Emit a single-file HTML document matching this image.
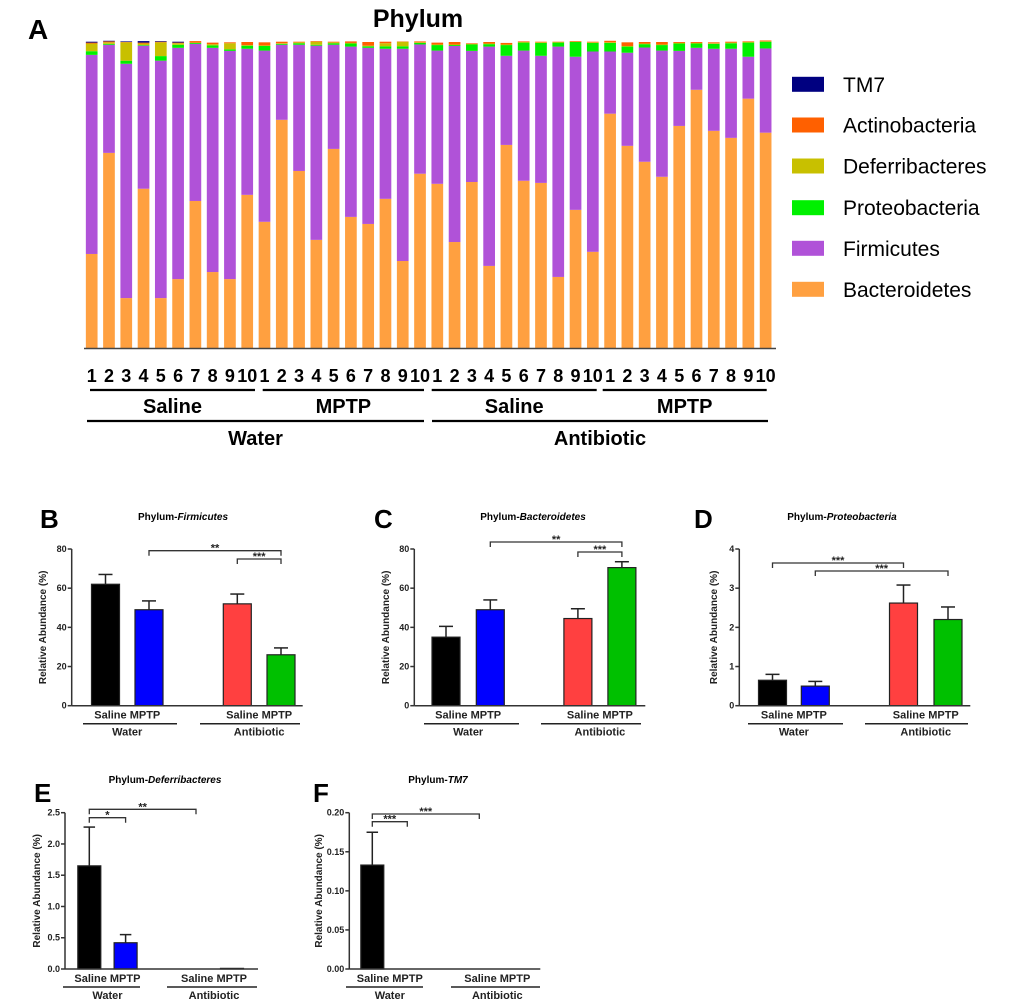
<!DOCTYPE html>
<html><head><meta charset="utf-8"><style>
html,body{margin:0;padding:0;background:#fff;}
svg{display:block;font-family:"Liberation Sans",Arial,sans-serif;}
</style></head><body>
<svg id="fig" width="1020" height="1004" viewBox="0 0 1020 1004" xmlns="http://www.w3.org/2000/svg">
<text x="28" y="39" font-size="28" font-weight="bold">A</text>
<text x="418" y="27" font-size="25" font-weight="bold" text-anchor="middle">Phylum</text>
<g id="stack"></g>
<g id="legend"></g>
<g id="panels"></g>
</svg>
<script>
// ---- Panel A data (percent per sample) ----
const sampleLabels = ["1","2","3","4","5","6","7","8","9","10","1","2","3","4","5","6","7","8","9","10","1","2","3","4","5","6","7","8","9","10","1","2","3","4","5","6","7","8","9","10"];
const bacteroidetes = [30.7,63.7,16.3,52,16.3,22.5,48,24.8,22.5,50,41.2,74.5,57.8,35.3,65,42.8,40.5,48.7,28.4,56.9,53.6,34.6,54.2,26.8,66.3,54.6,53.9,23.2,45.1,31.4,76.5,66,60.8,55.9,72.5,84.3,70.9,68.6,81.4,70.3];
const firmicutes = [65,35.3,76.5,46.7,77.5,75.5,51.3,73.2,74.5,47.7,55.9,24.5,41.2,63.4,34,55.6,57.5,49,69.3,42.2,43.5,64,42.8,71.6,29.1,42.5,41.5,75.2,50,65.4,20.3,30.4,37.3,41.2,24.5,13.7,26.8,29.1,13.7,27.5];
const proteobacteria = [1.2,0.3,1,0.2,1.5,1,0.3,0.8,0.5,1,1.5,0.3,0.5,0.3,0.5,1,0.5,0.8,0.8,0.5,1.8,0.3,2.1,0.8,3.5,2.6,4.2,1.3,4.8,2.8,2.8,2,1.1,1.8,2.4,1.4,1.6,1.8,4.6,2.2];
const deferribacteres = [2.5,0.5,6,0.5,4.5,0.5,0.1,0.4,2,0.2,0.2,0.2,0.3,1,0.3,0.2,0.2,1,1.5,0.2,0.2,0.2,0.2,0.2,0.2,0.2,0.2,0.2,0.1,0.2,0.2,0.2,0.2,0.2,0.2,0.2,0.2,0.2,0.2,0.1];
const actinobacteria = [0.3,0.3,0.1,0.3,0.2,0.2,0.5,0.5,0.3,1,1,0.5,0.2,0.2,0.2,0.5,1.2,0.5,0.1,0.3,0.6,0.8,0.2,0.5,0.5,0.2,0.2,0.1,0.2,0.2,0.5,1.2,0.5,0.8,0.3,0.3,0.3,0.3,0.2,0.3];
const tm7 = [0.3,0.2,0.2,0.5,0.2,0.3,0,0,0,0,0,0,0,0,0,0,0,0,0,0,0,0,0,0,0,0,0,0,0,0,0,0,0,0,0,0,0,0,0,0];
const phylaNames = ["TM7","Actinobacteria","Deferribacteres","Proteobacteria","Firmicutes","Bacteroidetes"];
const phylaColors = ["#000080","#ff6000","#c8c000","#00f000","#b052d8","#ffa040"];

// ---- Panel B-F data ----
const groupLabels = ["Saline","MPTP","Saline","MPTP"];
const firmMeans = [62,49,52,26];
const firmErr = [5,4.5,5,3.5];
const bactMeans = [35,49,44.5,70.5];
const bactErr = [5.5,5,5,3];
const proteoMeans = [0.65,0.5,2.62,2.2];
const proteoErr = [0.15,0.12,0.46,0.32];
const deferMeans = [1.65,0.42,0,0.01];
const deferErr = [0.62,0.13,0,0];
const tm7Means = [0.133,0,0,0];
const tm7Err = [0.042,0,0,0];
const firmTicks = ["0","20","40","60","80"];
const bactTicks = ["0","20","40","60","80"];
const proteoTicks = ["0","1","2","3","4"];
const deferTicks = ["0.0","0.5","1.0","1.5","2.0","2.5"];
const tm7Ticks = ["0.00","0.05","0.10","0.15","0.20"];

const NS="http://www.w3.org/2000/svg";
function mk(tag,attrs,parent){const e=document.createElementNS(NS,tag);for(const k in attrs)e.setAttribute(k,attrs[k]);parent.appendChild(e);return e;}

// ---- stacked chart ----
const stack=document.getElementById('stack');
const aTop=41.7,aBot=348,x0=91.7,dx=17.28,bw=11.7;
const yA=p=>aBot-(p/100)*(aBot-aTop);
const xA=i=>x0+i*dx;
const series=[bacteroidetes,firmicutes,proteobacteria,deferribacteres,actinobacteria,tm7];
const seriesColors=["#ffa040","#b052d8","#00f000","#c8c000","#ff6000","#000080"];
const seriesNames=["bacteroidetes","firmicutes","proteobacteria","deferribacteres","actinobacteria","tm7"];
for(let i=0;i<sampleLabels.length;i++){
  let cum=0;
  for(let s=0;s<series.length;s++){
    const v=series[s][i]; if(v<=0) continue;
    const y1=yA(cum), y2=yA(cum+v);
    const r=mk('rect',{x:xA(i)-bw/2,y:y2,width:bw,height:y1-y2,fill:seriesColors[s]},stack);
    
    
    cum+=v;
  }
  const t=mk('text',{x:xA(i),y:382,'font-size':18,'font-weight':'bold','text-anchor':'middle'},stack);
  
  
  t.textContent=sampleLabels[i];
}
let ax=mk('line',{x1:84,x2:776,y1:348.5,y2:348.5,stroke:'#444','stroke-width':1.5},stack);


const sub=[[90,255,"Saline"],[262.7,424,"MPTP"],[431.7,596.7,"Saline"],[602.7,766.7,"MPTP"]];
sub.forEach(s=>{
  mk('line',{x1:s[0],x2:s[1],y1:390,y2:390,stroke:'#000','stroke-width':2.2},stack);
  const t=mk('text',{x:(s[0]+s[1])/2,y:413,'font-size':20,'font-weight':'bold','text-anchor':'middle'},stack);
  
  
  t.textContent=s[2];
});
[[87,424,"Water"],[432,768,"Antibiotic"]].forEach(s=>{
  mk('line',{x1:s[0],x2:s[1],y1:421,y2:421,stroke:'#000','stroke-width':2.2},stack);
  const t=mk('text',{x:(s[0]+s[1])/2,y:445,'font-size':20,'font-weight':'bold','text-anchor':'middle'},stack);
  
  
  t.textContent=s[2];
});
// legend
const leg=document.getElementById('legend');
const legY=[84.3,125,166,207.7,248.3,289.3];
phylaNames.forEach((n,i)=>{
  const r=mk('rect',{x:792,y:legY[i]-7.5,width:32,height:15,fill:phylaColors[i]},leg);
  
  
  const t=mk('text',{x:843,y:legY[i]+7.5,'font-size':21},leg);
  
  
  t.textContent=n;
});

// ---- small panels ----
const panels=document.getElementById('panels');
const barColors=["#000000","#0000ff","#ff4040","#00c000"];
function panel(cfg){
  const g=mk('g',{},panels);
  
  
  const ax=cfg.axX, yT=cfg.yTop, yB=cfg.yBot, max=cfg.max;
  const yS=v=>yB-(v/max)*(yB-yT);
  const xS=k=>ax+cfg.off[k];
  // letter & title
  let t=mk('text',{x:cfg.lx,y:cfg.ly,'font-size':26,'font-weight':'bold'},g);
  
  
  t.textContent=cfg.letter;
  t=mk('text',{x:cfg.tx,y:cfg.ty,'font-size':10,'font-weight':'bold','text-anchor':'middle'},g);
  
  
  t.textContent='Phylum-';
  const ts=mk('tspan',{'font-style':'italic'},t); ts.textContent=cfg.title;
  // bars
  cfg.means.forEach((m,k)=>{
    const cx=xS(k), w=cfg.bw;
    if(cfg.err[k]>0){
      mk('line',{x1:cx,x2:cx,y1:yS(m),y2:yS(m+cfg.err[k]),stroke:'#222','stroke-width':1.5},g);
      mk('line',{x1:cx-w/4,x2:cx+w/4,y1:yS(m+cfg.err[k]),y2:yS(m+cfg.err[k]),stroke:'#222','stroke-width':1.5},g);
    }
    const h=yB-yS(m);
    if(h>0.3){
      const r=mk('rect',{x:cx-w/2,y:yS(m),width:w,height:h,fill:barColors[k],stroke:'#222','stroke-width':1.2},g);
      
      
    }
  });
  // axes
  mk('line',{x1:ax,x2:ax,y1:yT,y2:yB,stroke:'#333','stroke-width':1.5},g);
  mk('line',{x1:ax,x2:ax+cfg.len,y1:yB,y2:yB,stroke:'#333','stroke-width':1.5},g);
  cfg.ticks.forEach((lab,i)=>{
    const v=i*max/(cfg.ticks.length-1), y=yS(v);
    mk('line',{x1:ax-4,x2:ax,y1:y,y2:y,stroke:'#333','stroke-width':1.5},g);
    const tt=mk('text',{x:ax-5,y:y+3,'font-size':9,'font-weight':'bold','text-anchor':'end',fill:'#222'},g);
    
    
    tt.textContent=lab;
  });
  const yc=(yT+yB)/2;
  t=mk('text',{x:cfg.ytx,y:yc,'font-size':10,'font-weight':'bold','text-anchor':'middle',fill:'#222',transform:`rotate(-90 ${cfg.ytx} ${yc})`},g);
  
  
  t.textContent='Relative Abundance (%)';
  // group labels
  const ly=yB+13;
  [[0,1,"Water"],[2,3,"Antibiotic"]].forEach((p,j)=>{
    const c=(xS(p[0])+xS(p[1]))/2;
    const a=mk('text',{x:c,y:ly,'font-size':11,'font-weight':'bold','text-anchor':'middle',fill:'#222'},g);
    
    
    a.textContent=groupLabels[p[0]]+' '+groupLabels[p[1]];
    const l=cfg.ul[j];
    mk('line',{x1:l[0],x2:l[1],y1:ly+5,y2:ly+5,stroke:'#222','stroke-width':1.5},g);
    const b=mk('text',{x:c,y:ly+17,'font-size':11,'font-weight':'bold','text-anchor':'middle',fill:'#222'},g);
    
    
    b.textContent=p[2];
  });
  // significance brackets
  cfg.sig.forEach(s=>{
    const x1=xS(s[0]), x2=xS(s[1]), y=s[2];
    mk('path',{d:`M${x1} ${y+5}V${y}H${x2}V${y+5}`,fill:'none',stroke:'#333','stroke-width':1.3},g);
    const st=mk('text',{x:(x1+x2)/2,y:y+1,'font-size':11,'font-weight':'bold','text-anchor':'middle',fill:'#222'},g);
    
    
    st.textContent=s[3];
  });
}
panel({letter:'B',lx:40,ly:528,title:'Firmicutes',tx:183,ty:520,axX:71.7,yTop:549,yBot:705.7,max:80,len:231,bw:28,off:[33.8,77.3,165.6,209.3],means:firmMeans,err:firmErr,ticks:firmTicks,ytx:46,ul:[[83,177],[200,300]],sig:[[1,3,550.7,'**'],[2,3,559,'***']]});
panel({letter:'C',lx:374,ly:528,title:'Bacteroidetes',tx:533,ty:520,axX:414.3,yTop:549,yBot:705.7,max:80,len:231,bw:28,off:[31.7,76,163.6,207.6],means:bactMeans,err:bactErr,ticks:bactTicks,ytx:389,ul:[[424,519],[541,641]],sig:[[1,3,542,'**'],[2,3,552,'***']]});
panel({letter:'D',lx:694,ly:528,title:'Proteobacteria',tx:842,ty:520,axX:739.3,yTop:549,yBot:705.7,max:4,len:231,bw:28,off:[33.2,76,164.2,208.7],means:proteoMeans,err:proteoErr,ticks:proteoTicks,ytx:717,ul:[[748,843],[865,968]],sig:[[0,2,563,'***'],[1,3,571,'***']]});
panel({letter:'E',lx:34,ly:802,title:'Deferribacteres',tx:165,ty:783,axX:65,yTop:812.7,yBot:969,max:2.5,len:193,bw:23,off:[24.3,60.6,131,167],means:deferMeans,err:deferErr,ticks:deferTicks,ytx:40,ul:[[63,140],[167,257]],sig:[[0,2,809.3,'**'],[0,1,817.7,'*']]});
panel({letter:'F',lx:313,ly:802,title:'TM7',tx:438,ty:783,axX:349.3,yTop:812.7,yBot:969,max:0.2,len:191,bw:23,off:[23,58,130,166],means:tm7Means,err:tm7Err,ticks:tm7Ticks,ytx:322,ul:[[346,423],[451,540]],sig:[[0,2,814,'***'],[0,1,821.7,'***']]});
</script>
</body></html>
